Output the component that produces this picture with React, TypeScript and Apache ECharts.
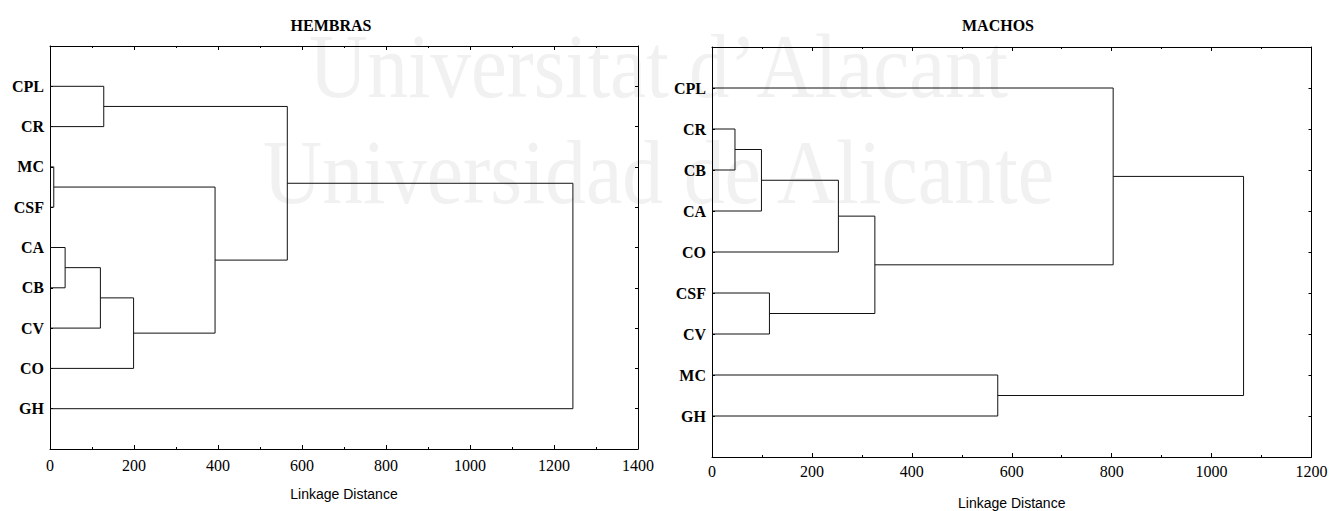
import React, { useEffect, useRef } from "react";
import * as echarts from "echarts";

// Leaf order (top to bottom) of each tree diagram
const hembrasLeaves = ["CPL", "CR", "MC", "CSF", "CA", "CB", "CV", "CO", "GH"];
const machosLeaves = ["CPL", "CR", "CB", "CA", "CO", "CSF", "CV", "MC", "GH"];

// Joining steps: [node A, node B, linkage distance].
// Nodes 0-8 are the leaves above; node 9 is the cluster formed by the first step, 10 by the second, etc.
const hembrasMerges: [number, number, number][] = [
  [2, 3, 9],
  [4, 5, 36],
  [10, 6, 120],
  [0, 1, 128],
  [11, 7, 199],
  [9, 13, 393],
  [12, 14, 565],
  [15, 8, 1245],
];
const machosMerges: [number, number, number][] = [
  [1, 2, 46],
  [9, 3, 99],
  [5, 6, 115],
  [10, 4, 253],
  [12, 11, 326],
  [7, 8, 572],
  [0, 13, 803],
  [15, 14, 1064],
];

const hembrasMax = 1400;
const machosMax = 1200;
const xTickStep = 200;

const SERIF = '"Liberation Serif", "Times New Roman", serif';
const SANS = '"Liberation Sans", Arial, sans-serif';
const INK = "#000";

// Build the elbow links of a dendrogram in (distance, row) coordinates
function dendrogramLinks(leafCount: number, merges: [number, number, number][]) {
  const rowOf: number[] = [];
  const heightOf: number[] = [];
  for (let i = 0; i < leafCount; i++) {
    rowOf.push(i + 1);
    heightOf.push(0);
  }
  const links: { coords: number[][] }[] = [];
  merges.forEach(([a, b, d]) => {
    links.push({
      coords: [
        [heightOf[a], rowOf[a]],
        [d, rowOf[a]],
        [d, rowOf[b]],
        [heightOf[b], rowOf[b]],
      ],
    });
    rowOf.push((rowOf[a] + rowOf[b]) / 2);
    heightOf.push(d);
  });
  return links;
}

function xAxes(gridIndex: number, max: number, nameGap: number, labelMargin: number) {
  const common = {
    gridIndex,
    type: "value",
    min: 0,
    max,
    interval: xTickStep,
    axisLine: { show: true, onZero: false, lineStyle: { color: INK, width: 1 } },
    axisTick: { show: true, inside: true, length: 4, lineStyle: { color: INK, width: 1 } },
    minorTick: { show: true, splitNumber: 2, length: 2, lineStyle: { color: INK, width: 1 } },
    splitLine: { show: false },
    minorSplitLine: { show: false },
  };
  return [
    {
      ...common,
      position: "bottom",
      axisLabel: {
        show: true,
        color: INK,
        fontFamily: SERIF,
        fontSize: 16,
        margin: labelMargin,
        formatter: (v: number) => String(v),
      },
      name: "Linkage Distance",
      nameLocation: "middle",
      nameGap,
      nameTextStyle: { color: INK, fontFamily: SANS, fontSize: 14 },
    },
    { ...common, position: "top", axisLabel: { show: false } },
  ];
}

function yAxes(gridIndex: number, leaves: string[]) {
  const common = {
    gridIndex,
    type: "value",
    inverse: true,
    min: 0,
    max: leaves.length + 1,
    interval: 1,
    axisLine: { show: true, onZero: false, lineStyle: { color: INK, width: 1 } },
    axisTick: { show: true, inside: true, length: 3, lineStyle: { color: INK, width: 1 } },
    splitLine: { show: false },
  };
  return [
    {
      ...common,
      position: "left",
      axisLabel: {
        show: true,
        color: INK,
        fontFamily: SERIF,
        fontWeight: "bold",
        fontSize: 16,
        margin: 6,
        formatter: (v: number) => leaves[v - 1] ?? "",
      },
    },
    { ...common, position: "right", axisLabel: { show: false } },
  ];
}

export default function App() {
  const ref = useRef<HTMLDivElement>(null);

  useEffect(() => {
    if (!ref.current) return;
    const chart = echarts.init(ref.current, undefined, { renderer: "svg" });

    const linkStyle = { color: "#111", width: 1, opacity: 1, curveness: 0 };

    const option: any = {
      animation: false,
      backgroundColor: "#fff",
      grid: [
        { left: 50, top: 46, width: 588, height: 403, outerBoundsMode: "none" },
        { left: 712, top: 47, width: 599.5, height: 410, outerBoundsMode: "none" },
      ],
      xAxis: [...xAxes(0, hembrasMax, 38, 8), ...xAxes(1, machosMax, 39, 6)],
      yAxis: [...yAxes(0, hembrasLeaves), ...yAxes(1, machosLeaves)],
      series: [
        {
          type: "lines",
          coordinateSystem: "cartesian2d",
          xAxisIndex: 0,
          yAxisIndex: 0,
          polyline: true,
          silent: true,
          lineStyle: linkStyle,
          data: dendrogramLinks(hembrasLeaves.length, hembrasMerges),
        },
        {
          type: "lines",
          coordinateSystem: "cartesian2d",
          xAxisIndex: 2,
          yAxisIndex: 2,
          polyline: true,
          silent: true,
          lineStyle: linkStyle,
          data: dendrogramLinks(machosLeaves.length, machosMerges),
        },
      ],
      graphic: [
        {
          type: "text",
          z: -10,
          silent: true,
          x: 309,
          y: 66,
          scaleX: 0.88,
          style: {
            text: "Universitat d\u2019Alacant",
            fill: "#f1f1f1",
            font: `92px ${SERIF}`,
            align: "left",
            verticalAlign: "middle",
          },
        },
        {
          type: "text",
          z: -10,
          silent: true,
          x: 263,
          y: 172,
          scaleX: 0.89,
          style: {
            text: "Universidad de Alicante",
            fill: "#f1f1f1",
            font: `92px ${SERIF}`,
            align: "left",
            verticalAlign: "middle",
          },
        },
        {
          type: "text",
          x: 331,
          y: 25.5,
          style: {
            text: "HEMBRAS",
            fill: INK,
            font: `bold 16px ${SERIF}`,
            align: "center",
            verticalAlign: "middle",
          },
        },
        {
          type: "text",
          x: 998,
          y: 25.5,
          style: {
            text: "MACHOS",
            fill: INK,
            font: `bold 16px ${SERIF}`,
            align: "center",
            verticalAlign: "middle",
          },
        },
      ],
    };

    chart.setOption(option);
    return () => chart.dispose();
  }, []);

  return (
    <div
      ref={ref}
      style={{ position: "absolute", left: 0, top: 0, width: 1329, height: 511, background: "#fff" }}
    />
  );
}
